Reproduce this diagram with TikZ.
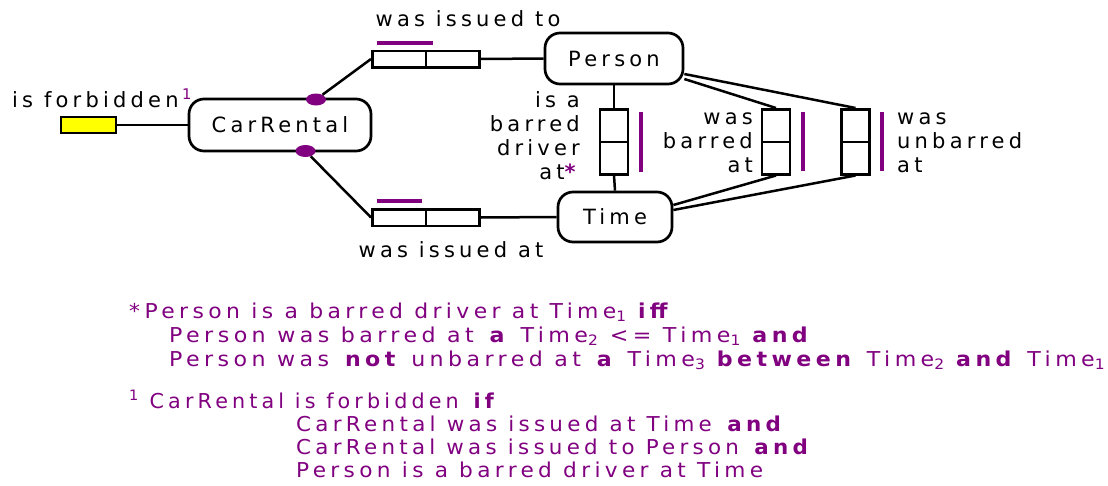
\documentclass[tikz,border=0pt]{standalone}
\usepackage{fontspec}
\setmainfont{DejaVu Sans}[LetterSpace=20]
\usepackage{graphicx}
\usetikzlibrary{shapes.geometric}
\definecolor{pur}{RGB}{128,0,128}
\definecolor{yel}{RGB}{255,255,0}
\newcommand\dfont{\fontsize{21}{24}\selectfont}
\newcommand\fitw[2]{\resizebox{#1}{\height}{#2}}
\begin{document}
\begin{tikzpicture}[x=1pt,y=-1pt,
  ent/.style={draw, line width=2.7pt, rounded corners=15pt, inner sep=0, font=\dfont},
  hcell/.style={draw, line width=2.5pt, inner sep=0, minimum width=53.5pt, minimum height=16.5pt},
  vcell/.style={draw, line width=2.5pt, inner sep=0, minimum width=28pt, minimum height=32.5pt},
  conn/.style={line width=2.5pt},
  ubar/.style={pur, line width=3.2pt},
  dot/.style={ellipse, fill=pur, inner sep=0, minimum width=20pt, minimum height=12pt},
  lbl/.style={inner sep=0, font=\dfont},
  note/.style={inner sep=0, text=pur}
]
\useasboundingbox (0,0) rectangle (1108,485);

% entity boxes
\node[ent, minimum width=182pt, minimum height=52pt] (CR) at (280,125) {CarRental};
\node[ent, minimum width=138pt, minimum height=51pt] (P) at (614,58.5) {Person};
\node[ent, minimum width=114pt, minimum height=50pt] (T) at (615,217) {Time};

% unary fact
\node[draw, line width=2.5pt, fill=yel, inner sep=0, minimum width=55pt, minimum height=16pt] (Y) at (88.5,125) {};
\draw[conn] (Y.east) -- (CR.west);
\node[lbl, anchor=base west] (Ylbl) at (12,107) {is forbidden\,\textsuperscript{\color{pur}1}};

% was issued to
\node[hcell] (R1a) at (399,59) {};
\node[hcell] (R1b) at (452.5,59) {};
\node[lbl, anchor=base] (R1lbl) at (468,26) {was issued to};
\draw[ubar] (377,43) -- (433,43);

% was issued at
\node[hcell] (R2a) at (399,217.5) {};
\node[hcell] (R2b) at (452.5,217.5) {};
\node[lbl, anchor=base] (R2lbl) at (451,257) {was issued at};
\draw[ubar] (377,201) -- (422,201);

% mandatory dots
\node[dot] (D1) at (316,99.5) {};
\node[dot] (D2) at (305.5,151) {};

\draw[conn] (D1) -- (R1a.west);
\draw[conn] (D2) -- (R2a.west);
\draw[conn] (R1b.east) -- (P.west);
\draw[conn] (R2b.east) -- (T.west);

% is a barred driver at
\node[vcell] (V1a) at (614,125.5) {};
\node[vcell] (V1b) at (614,158) {};
\draw[conn] (P.south) -- (V1a.north);
\draw[conn] (V1b.south) -- (T.north);
\draw[ubar] (641,112) -- (641,172);
\node[lbl, anchor=base east] (V1lbl) at (580,107) {\begin{tabular}[t]{@{}r@{}}is a\\barred\\driver\\at{\color{pur}\textbf{*}}\end{tabular}};

% was barred at
\node[vcell] (V2a) at (776,125.5) {};
\node[vcell] (V2b) at (776,158) {};
\draw[ubar] (803,112) -- (803,171);
\node[lbl, anchor=base east] (V2lbl) at (753,124) {\begin{tabular}[t]{@{}r@{}}was\\barred\\at\end{tabular}};

% was unbarred at
\node[vcell] (V3a) at (855.5,125.5) {};
\node[vcell] (V3b) at (855.5,158) {};
\draw[ubar] (882,112) -- (882,171);
\node[lbl, anchor=base west] (V3lbl) at (897,124) {\begin{tabular}[t]{@{}l@{}}was\\unbarred\\at\end{tabular}};

% connectors to binary facts on the right
\draw[conn] ([yshift=-15.5pt]P.east) -- (V3a.north);
\draw[conn] ([yshift=-20.5pt]P.east) -- (V2a.north);
\draw[conn] ([yshift=12pt]T.east) -- (V2b.south);
\draw[conn] ([yshift=7pt]T.east) -- (V3b.south);

% notes
\node[note, anchor=base west] (N1) at (129,318) {\fontsize{20.5}{24}\selectfont\begin{tabular}[t]{@{}l@{}}
\fitw{543pt}{*Person is a barred driver at Time\textsubscript{1} \textbf{iff}}\\
\hspace{40pt}\fitw{643pt}{Person was barred at \textbf{a} Time\textsubscript{2} <= Time\textsubscript{1} \textbf{and}}\\
\hspace{40pt}\fitw{936pt}{Person was \textbf{not} unbarred at \textbf{a} Time\textsubscript{3} \textbf{between} Time\textsubscript{2} \textbf{and} Time\textsubscript{1}}
\end{tabular}};

\node[note, anchor=base west] (N2) at (129,408) {\fontsize{20.5}{23.3}\selectfont\begin{tabular}[t]{@{}l@{}}
\fitw{369pt}{\textsuperscript{1} CarRental is forbidden \textbf{if}}\\
\hspace{167pt}\fitw{489pt}{CarRental was issued at Time \textbf{and}}\\
\hspace{167pt}\fitw{516pt}{CarRental was issued to Person \textbf{and}}\\
\hspace{167pt}\fitw{467pt}{Person is a barred driver at Time}
\end{tabular}};
\end{tikzpicture}
\end{document}
